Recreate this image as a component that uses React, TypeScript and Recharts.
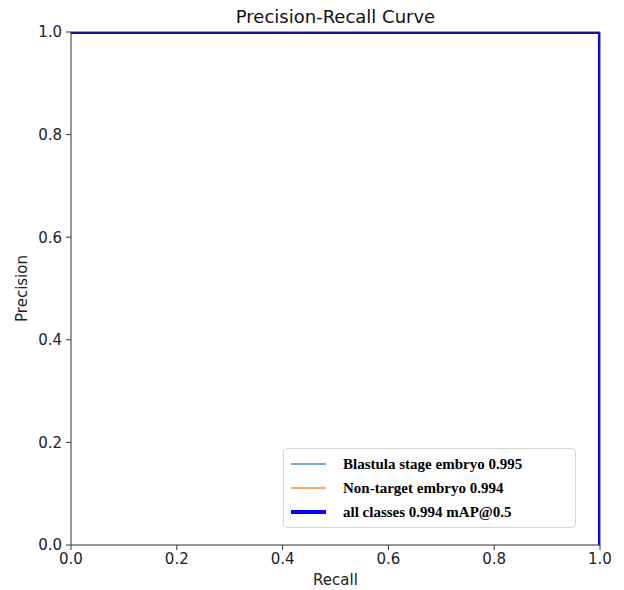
import React from 'react';
import { LineChart, Line, XAxis, YAxis, ReferenceLine, Legend } from 'recharts';

const recall = [0, 0.5, 1, 1];
const blastulaPrecision = [1, 1, 1, 0];
const nonTargetPrecision = [1, 1, 1, 0];
const allClassesPrecision = [1, 1, 1, 0];
const ticks = [0, 0.2, 0.4, 0.6, 0.8, 1.0];
const seriesNames = ['Blastula stage embryo 0.995', 'Non-target embryo 0.994', 'all classes 0.994 mAP@0.5'];
const seriesColors = ['#76aad7', '#ffa862', '#0000ff'];
const seriesWidths = [1.5, 1.5, 4];

const data = recall.map((r, i) => ({
  recall: r,
  blastula: blastulaPrecision[i],
  nontarget: nonTargetPrecision[i],
  all: allClassesPrecision[i],
}));

const SANS = "'DejaVu Sans', sans-serif";
const SERIF = "'Liberation Serif', 'Times New Roman', serif";

const XLabel = (props: any) => {
  const vb = props.viewBox || {};
  return (
    <text x={vb.x + vb.width / 2} y={vb.y + 40} textAnchor="middle" fontFamily={SANS} fontSize={15} fill="#222">
      Recall
    </text>
  );
};

const YLabel = (props: any) => {
  const vb = props.viewBox || {};
  const cx = 14;
  const cy = vb.y + vb.height / 2;
  return (
    <text x={cx} y={cy} textAnchor="middle" dominantBaseline="central" transform={`rotate(-90, ${cx}, ${cy})`} fontFamily={SANS} fontSize={15} fill="#222">
      Precision
    </text>
  );
};

const LegendBox = () => (
  <div
    style={{
      width: 293,
      height: 80,
      boxSizing: 'border-box',
      background: '#fff',
      border: '1px solid #d6d6d6',
      borderRadius: 4,
      padding: '3px 0 0 7px',
    }}
  >
    {seriesNames.map((name, i) => (
      <div key={name} style={{ display: 'flex', alignItems: 'center', height: 24 }}>
        <svg width={35} height={6} style={{ marginRight: 17 }}>
          <line x1={0} y1={3} x2={35} y2={3} stroke={seriesColors[i]} strokeWidth={i === 2 ? 4 : 2} />
        </svg>
        <span style={{ fontFamily: SERIF, fontWeight: 'bold', fontSize: 15, color: '#000', whiteSpace: 'nowrap' }}>{name}</span>
      </div>
    ))}
  </div>
);

export default function App() {
  return (
    <div style={{ position: 'relative', width: 616, height: 582 }}>
      <div
        style={{
          position: 'absolute',
          left: 63,
          width: 529,
          top: 0,
          textAlign: 'center',
          fontFamily: SANS,
          fontSize: 18,
          lineHeight: '18px',
          color: '#111',
        }}
      >
        Precision-Recall Curve
      </div>
      <LineChart width={616} height={582} data={data} margin={{ top: 24, right: 24, bottom: 15, left: 23 }}>
        <XAxis
          dataKey="recall"
          type="number"
          domain={[0, 1]}
          ticks={ticks}
          allowDataOverflow
          tickFormatter={(v: number) => v.toFixed(1)}
          tickSize={5}
          tickMargin={3}
          height={30}
          stroke="#333"
          tick={{ fontFamily: SANS, fontSize: 15, fill: '#222' }}
          label={<XLabel />}
        />
        <YAxis
          type="number"
          domain={[0, 1]}
          ticks={ticks}
          allowDataOverflow
          tickFormatter={(v: number) => v.toFixed(1)}
          tickSize={5}
          tickMargin={4}
          width={40}
          stroke="#333"
          tick={{ fontFamily: SANS, fontSize: 15, fill: '#222' }}
          label={<YLabel />}
        />
        <Line dataKey="blastula" stroke={seriesColors[0]} strokeWidth={seriesWidths[0]} dot={false} isAnimationActive={false} />
        <Line dataKey="nontarget" stroke={seriesColors[1]} strokeWidth={seriesWidths[1]} dot={false} isAnimationActive={false} />
        <Line dataKey="all" stroke={seriesColors[2]} strokeWidth={seriesWidths[2]} dot={false} isAnimationActive={false} />
        <ReferenceLine y={1} stroke="#333" strokeWidth={1} />
        <ReferenceLine x={1} stroke="#333" strokeWidth={1} />
        <Legend
          layout="vertical"
          align="center"
          verticalAlign="middle"
          content={<LegendBox />}
          wrapperStyle={{ position: 'absolute', left: 275, top: 440, width: 293, height: 80, bottom: 'auto', right: 'auto', margin: 0 }}
        />
      </LineChart>
    </div>
  );
}
